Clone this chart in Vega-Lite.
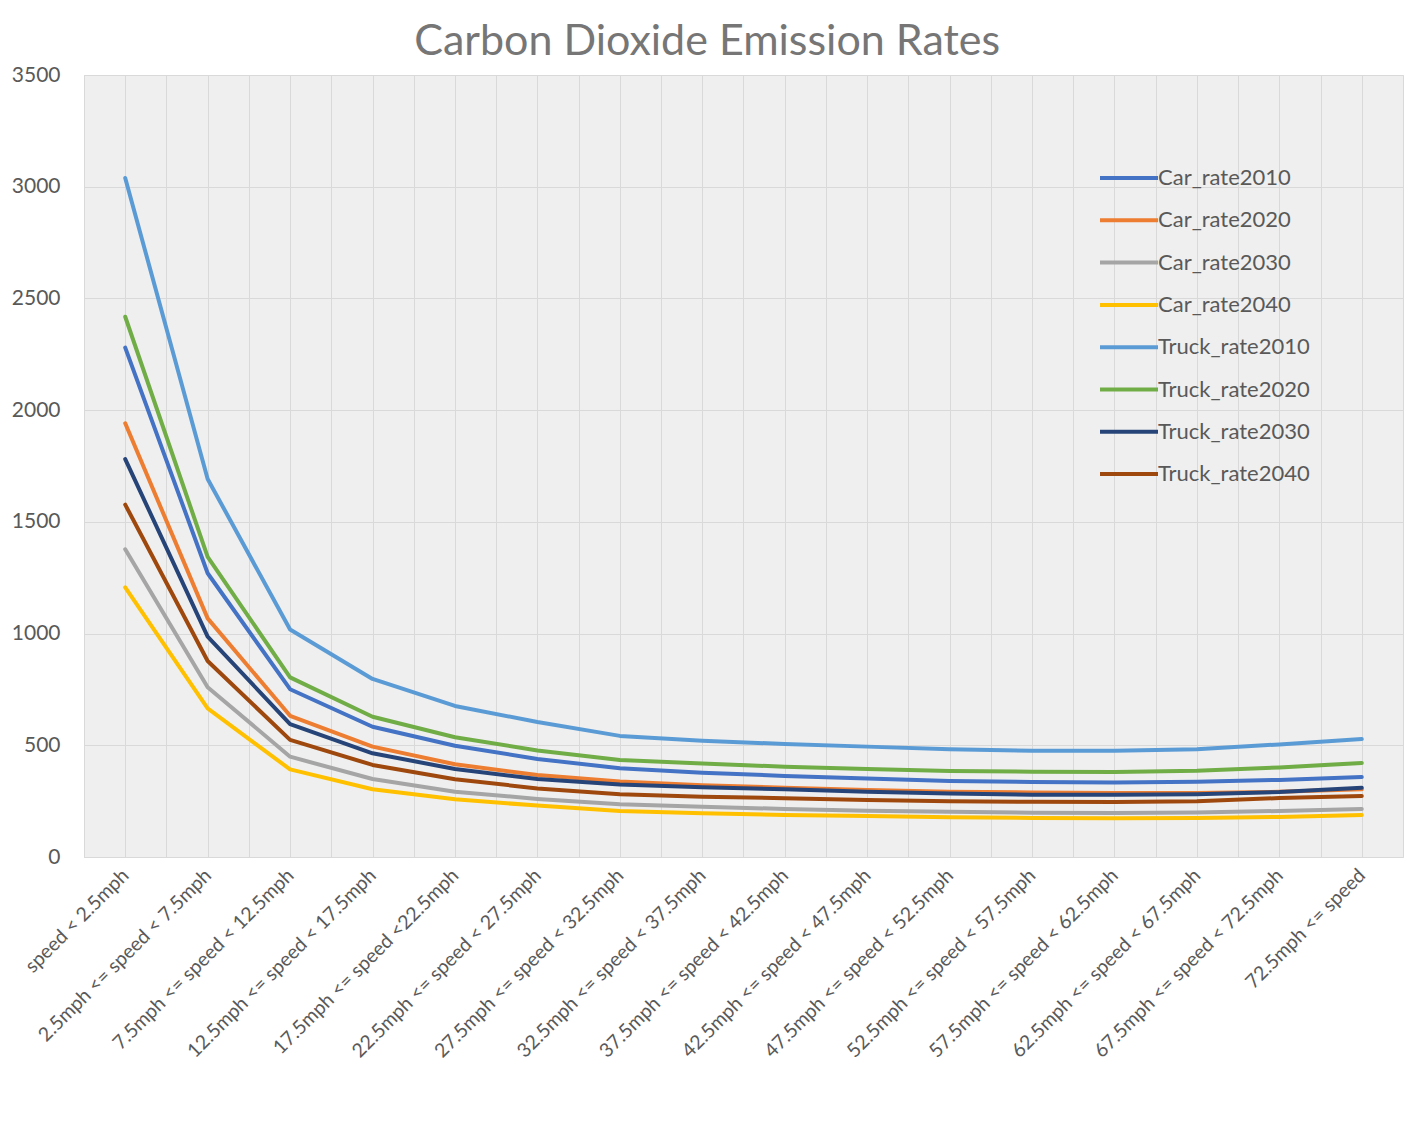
{
  "$schema": "https://vega.github.io/schema/vega-lite/v6.json",
  "width": 1319,
  "height": 782,
  "autosize": "none",
  "padding": {"left": 84, "top": 75, "right": 5, "bottom": 265},
  "background": "white",
  "title": {"text": "Carbon Dioxide Emission Rates", "font": "Lato", "fontSize": 43, "fontWeight": "normal", "color": "#767676", "anchor": "middle", "frame": "bounds", "offset": 0},
  "config": {"view": {"stroke": "#d9d9d9", "fill": "#efefef"}, "font": "Lato"},
  "data": {"values": [
    {"speed": "speed < 2.5mph", "series": "Car_rate2010", "rate": 2280},
    {"speed": "2.5mph <= speed < 7.5mph", "series": "Car_rate2010", "rate": 1270},
    {"speed": "7.5mph <= speed < 12.5mph", "series": "Car_rate2010", "rate": 751},
    {"speed": "12.5mph <= speed < 17.5mph", "series": "Car_rate2010", "rate": 583},
    {"speed": "17.5mph <= speed <22.5mph", "series": "Car_rate2010", "rate": 498},
    {"speed": "22.5mph <= speed < 27.5mph", "series": "Car_rate2010", "rate": 439},
    {"speed": "27.5mph <= speed < 32.5mph", "series": "Car_rate2010", "rate": 397},
    {"speed": "32.5mph <= speed < 37.5mph", "series": "Car_rate2010", "rate": 377},
    {"speed": "37.5mph <= speed < 42.5mph", "series": "Car_rate2010", "rate": 363},
    {"speed": "42.5mph <= speed < 47.5mph", "series": "Car_rate2010", "rate": 351},
    {"speed": "47.5mph <= speed < 52.5mph", "series": "Car_rate2010", "rate": 340},
    {"speed": "52.5mph <= speed < 57.5mph", "series": "Car_rate2010", "rate": 336},
    {"speed": "57.5mph <= speed < 62.5mph", "series": "Car_rate2010", "rate": 333},
    {"speed": "62.5mph <= speed < 67.5mph", "series": "Car_rate2010", "rate": 337},
    {"speed": "67.5mph <= speed < 72.5mph", "series": "Car_rate2010", "rate": 345},
    {"speed": "72.5mph <= speed", "series": "Car_rate2010", "rate": 358},

    {"speed": "speed < 2.5mph", "series": "Car_rate2020", "rate": 1941},
    {"speed": "2.5mph <= speed < 7.5mph", "series": "Car_rate2020", "rate": 1068},
    {"speed": "7.5mph <= speed < 12.5mph", "series": "Car_rate2020", "rate": 632},
    {"speed": "12.5mph <= speed < 17.5mph", "series": "Car_rate2020", "rate": 494},
    {"speed": "17.5mph <= speed <22.5mph", "series": "Car_rate2020", "rate": 415},
    {"speed": "22.5mph <= speed < 27.5mph", "series": "Car_rate2020", "rate": 367},
    {"speed": "27.5mph <= speed < 32.5mph", "series": "Car_rate2020", "rate": 338},
    {"speed": "32.5mph <= speed < 37.5mph", "series": "Car_rate2020", "rate": 321},
    {"speed": "37.5mph <= speed < 42.5mph", "series": "Car_rate2020", "rate": 310},
    {"speed": "42.5mph <= speed < 47.5mph", "series": "Car_rate2020", "rate": 300},
    {"speed": "47.5mph <= speed < 52.5mph", "series": "Car_rate2020", "rate": 292},
    {"speed": "52.5mph <= speed < 57.5mph", "series": "Car_rate2020", "rate": 289},
    {"speed": "57.5mph <= speed < 62.5mph", "series": "Car_rate2020", "rate": 286},
    {"speed": "62.5mph <= speed < 67.5mph", "series": "Car_rate2020", "rate": 286},
    {"speed": "67.5mph <= speed < 72.5mph", "series": "Car_rate2020", "rate": 292},
    {"speed": "72.5mph <= speed", "series": "Car_rate2020", "rate": 303},

    {"speed": "speed < 2.5mph", "series": "Car_rate2030", "rate": 1377},
    {"speed": "2.5mph <= speed < 7.5mph", "series": "Car_rate2030", "rate": 760},
    {"speed": "7.5mph <= speed < 12.5mph", "series": "Car_rate2030", "rate": 449},
    {"speed": "12.5mph <= speed < 17.5mph", "series": "Car_rate2030", "rate": 349},
    {"speed": "17.5mph <= speed <22.5mph", "series": "Car_rate2030", "rate": 292},
    {"speed": "22.5mph <= speed < 27.5mph", "series": "Car_rate2030", "rate": 260},
    {"speed": "27.5mph <= speed < 32.5mph", "series": "Car_rate2030", "rate": 236},
    {"speed": "32.5mph <= speed < 37.5mph", "series": "Car_rate2030", "rate": 225},
    {"speed": "37.5mph <= speed < 42.5mph", "series": "Car_rate2030", "rate": 215},
    {"speed": "42.5mph <= speed < 47.5mph", "series": "Car_rate2030", "rate": 207},
    {"speed": "47.5mph <= speed < 52.5mph", "series": "Car_rate2030", "rate": 202},
    {"speed": "52.5mph <= speed < 57.5mph", "series": "Car_rate2030", "rate": 198},
    {"speed": "57.5mph <= speed < 62.5mph", "series": "Car_rate2030", "rate": 197},
    {"speed": "62.5mph <= speed < 67.5mph", "series": "Car_rate2030", "rate": 199},
    {"speed": "67.5mph <= speed < 72.5mph", "series": "Car_rate2030", "rate": 206},
    {"speed": "72.5mph <= speed", "series": "Car_rate2030", "rate": 215},

    {"speed": "speed < 2.5mph", "series": "Car_rate2040", "rate": 1207},
    {"speed": "2.5mph <= speed < 7.5mph", "series": "Car_rate2040", "rate": 665},
    {"speed": "7.5mph <= speed < 12.5mph", "series": "Car_rate2040", "rate": 392},
    {"speed": "12.5mph <= speed < 17.5mph", "series": "Car_rate2040", "rate": 303},
    {"speed": "17.5mph <= speed <22.5mph", "series": "Car_rate2040", "rate": 258},
    {"speed": "22.5mph <= speed < 27.5mph", "series": "Car_rate2040", "rate": 230},
    {"speed": "27.5mph <= speed < 32.5mph", "series": "Car_rate2040", "rate": 206},
    {"speed": "32.5mph <= speed < 37.5mph", "series": "Car_rate2040", "rate": 196},
    {"speed": "37.5mph <= speed < 42.5mph", "series": "Car_rate2040", "rate": 188},
    {"speed": "42.5mph <= speed < 47.5mph", "series": "Car_rate2040", "rate": 183},
    {"speed": "47.5mph <= speed < 52.5mph", "series": "Car_rate2040", "rate": 178},
    {"speed": "52.5mph <= speed < 57.5mph", "series": "Car_rate2040", "rate": 175},
    {"speed": "57.5mph <= speed < 62.5mph", "series": "Car_rate2040", "rate": 173},
    {"speed": "62.5mph <= speed < 67.5mph", "series": "Car_rate2040", "rate": 175},
    {"speed": "67.5mph <= speed < 72.5mph", "series": "Car_rate2040", "rate": 179},
    {"speed": "72.5mph <= speed", "series": "Car_rate2040", "rate": 188},

    {"speed": "speed < 2.5mph", "series": "Truck_rate2010", "rate": 3039},
    {"speed": "2.5mph <= speed < 7.5mph", "series": "Truck_rate2010", "rate": 1692},
    {"speed": "7.5mph <= speed < 12.5mph", "series": "Truck_rate2010", "rate": 1018},
    {"speed": "12.5mph <= speed < 17.5mph", "series": "Truck_rate2010", "rate": 797},
    {"speed": "17.5mph <= speed <22.5mph", "series": "Truck_rate2010", "rate": 676},
    {"speed": "22.5mph <= speed < 27.5mph", "series": "Truck_rate2010", "rate": 604},
    {"speed": "27.5mph <= speed < 32.5mph", "series": "Truck_rate2010", "rate": 542},
    {"speed": "32.5mph <= speed < 37.5mph", "series": "Truck_rate2010", "rate": 520},
    {"speed": "37.5mph <= speed < 42.5mph", "series": "Truck_rate2010", "rate": 506},
    {"speed": "42.5mph <= speed < 47.5mph", "series": "Truck_rate2010", "rate": 494},
    {"speed": "47.5mph <= speed < 52.5mph", "series": "Truck_rate2010", "rate": 482},
    {"speed": "52.5mph <= speed < 57.5mph", "series": "Truck_rate2010", "rate": 476},
    {"speed": "57.5mph <= speed < 62.5mph", "series": "Truck_rate2010", "rate": 476},
    {"speed": "62.5mph <= speed < 67.5mph", "series": "Truck_rate2010", "rate": 482},
    {"speed": "67.5mph <= speed < 72.5mph", "series": "Truck_rate2010", "rate": 504},
    {"speed": "72.5mph <= speed", "series": "Truck_rate2010", "rate": 528},

    {"speed": "speed < 2.5mph", "series": "Truck_rate2020", "rate": 2418},
    {"speed": "2.5mph <= speed < 7.5mph", "series": "Truck_rate2020", "rate": 1343},
    {"speed": "7.5mph <= speed < 12.5mph", "series": "Truck_rate2020", "rate": 804},
    {"speed": "12.5mph <= speed < 17.5mph", "series": "Truck_rate2020", "rate": 628},
    {"speed": "17.5mph <= speed <22.5mph", "series": "Truck_rate2020", "rate": 536},
    {"speed": "22.5mph <= speed < 27.5mph", "series": "Truck_rate2020", "rate": 477},
    {"speed": "27.5mph <= speed < 32.5mph", "series": "Truck_rate2020", "rate": 434},
    {"speed": "32.5mph <= speed < 37.5mph", "series": "Truck_rate2020", "rate": 419},
    {"speed": "37.5mph <= speed < 42.5mph", "series": "Truck_rate2020", "rate": 404},
    {"speed": "42.5mph <= speed < 47.5mph", "series": "Truck_rate2020", "rate": 394},
    {"speed": "47.5mph <= speed < 52.5mph", "series": "Truck_rate2020", "rate": 385},
    {"speed": "52.5mph <= speed < 57.5mph", "series": "Truck_rate2020", "rate": 382},
    {"speed": "57.5mph <= speed < 62.5mph", "series": "Truck_rate2020", "rate": 380},
    {"speed": "62.5mph <= speed < 67.5mph", "series": "Truck_rate2020", "rate": 386},
    {"speed": "67.5mph <= speed < 72.5mph", "series": "Truck_rate2020", "rate": 401},
    {"speed": "72.5mph <= speed", "series": "Truck_rate2020", "rate": 421},

    {"speed": "speed < 2.5mph", "series": "Truck_rate2030", "rate": 1781},
    {"speed": "2.5mph <= speed < 7.5mph", "series": "Truck_rate2030", "rate": 986},
    {"speed": "7.5mph <= speed < 12.5mph", "series": "Truck_rate2030", "rate": 595},
    {"speed": "12.5mph <= speed < 17.5mph", "series": "Truck_rate2030", "rate": 464},
    {"speed": "17.5mph <= speed <22.5mph", "series": "Truck_rate2030", "rate": 394},
    {"speed": "22.5mph <= speed < 27.5mph", "series": "Truck_rate2030", "rate": 349},
    {"speed": "27.5mph <= speed < 32.5mph", "series": "Truck_rate2030", "rate": 324},
    {"speed": "32.5mph <= speed < 37.5mph", "series": "Truck_rate2030", "rate": 312},
    {"speed": "37.5mph <= speed < 42.5mph", "series": "Truck_rate2030", "rate": 303},
    {"speed": "42.5mph <= speed < 47.5mph", "series": "Truck_rate2030", "rate": 292},
    {"speed": "47.5mph <= speed < 52.5mph", "series": "Truck_rate2030", "rate": 284},
    {"speed": "52.5mph <= speed < 57.5mph", "series": "Truck_rate2030", "rate": 279},
    {"speed": "57.5mph <= speed < 62.5mph", "series": "Truck_rate2030", "rate": 279},
    {"speed": "62.5mph <= speed < 67.5mph", "series": "Truck_rate2030", "rate": 281},
    {"speed": "67.5mph <= speed < 72.5mph", "series": "Truck_rate2030", "rate": 291},
    {"speed": "72.5mph <= speed", "series": "Truck_rate2030", "rate": 310},

    {"speed": "speed < 2.5mph", "series": "Truck_rate2040", "rate": 1577},
    {"speed": "2.5mph <= speed < 7.5mph", "series": "Truck_rate2040", "rate": 877},
    {"speed": "7.5mph <= speed < 12.5mph", "series": "Truck_rate2040", "rate": 524},
    {"speed": "12.5mph <= speed < 17.5mph", "series": "Truck_rate2040", "rate": 412},
    {"speed": "17.5mph <= speed <22.5mph", "series": "Truck_rate2040", "rate": 348},
    {"speed": "22.5mph <= speed < 27.5mph", "series": "Truck_rate2040", "rate": 307},
    {"speed": "27.5mph <= speed < 32.5mph", "series": "Truck_rate2040", "rate": 281},
    {"speed": "32.5mph <= speed < 37.5mph", "series": "Truck_rate2040", "rate": 270},
    {"speed": "37.5mph <= speed < 42.5mph", "series": "Truck_rate2040", "rate": 263},
    {"speed": "42.5mph <= speed < 47.5mph", "series": "Truck_rate2040", "rate": 255},
    {"speed": "47.5mph <= speed < 52.5mph", "series": "Truck_rate2040", "rate": 250},
    {"speed": "52.5mph <= speed < 57.5mph", "series": "Truck_rate2040", "rate": 247},
    {"speed": "57.5mph <= speed < 62.5mph", "series": "Truck_rate2040", "rate": 246},
    {"speed": "62.5mph <= speed < 67.5mph", "series": "Truck_rate2040", "rate": 249},
    {"speed": "67.5mph <= speed < 72.5mph", "series": "Truck_rate2040", "rate": 264},
    {"speed": "72.5mph <= speed", "series": "Truck_rate2040", "rate": 273}
  ]},
  "encoding": {
    "y": {"field": "rate", "type": "quantitative",
      "scale": {"domain": [0, 3500], "nice": false},
      "axis": {"title": null, "format": "d", "values": [0, 500, 1000, 1500, 2000, 2500, 3000, 3500], "domain": false, "ticks": false, "grid": true, "gridColor": "#d9d9d9", "gridWidth": 1, "labelFont": "Lato", "labelFontSize": 21, "labelColor": "#595959", "labelPadding": 24}}
  },
  "layer": [
    {
      "mark": {"type": "line", "opacity": 0},
      "encoding": {
        "x": {"field": "speed", "type": "ordinal", "sort": null, "scale": {"type": "point", "padding": 0.5},
          "axis": {"orient": "top", "title": null, "labels": false, "ticks": false, "domain": false, "grid": true, "gridColor": "#d9d9d9", "gridWidth": 1, "tickOffset": -41.22}},
        "detail": {"field": "series"}
      }
    },
    {
      "mark": {"type": "line", "strokeWidth": 4, "strokeCap": "round", "strokeJoin": "round"},
      "encoding": {
        "x": {"field": "speed", "type": "ordinal", "sort": null, "scale": {"type": "point", "padding": 0.5},
          "axis": {"orient": "bottom", "title": null, "labelAngle": -45, "labelAlign": "right", "labelBaseline": "middle", "labelFont": "Lato", "labelFontSize": 19.5, "labelColor": "#595959", "labelPadding": 15, "labelLimit": 0, "ticks": false, "domain": false, "grid": true, "gridColor": "#d9d9d9", "gridWidth": 1, "labelOverlap": false}},
        "color": {"field": "series", "type": "nominal",
          "scale": {"domain": ["Car_rate2010", "Car_rate2020", "Car_rate2030", "Car_rate2040", "Truck_rate2010", "Truck_rate2020", "Truck_rate2030", "Truck_rate2040"],
                    "range": ["#4472C4", "#ED7D31", "#A5A5A5", "#FFC000", "#5B9BD5", "#70AD47", "#264478", "#9E480E"]},
          "legend": {"orient": "none", "legendX": 1014, "legendY": 72, "title": null, "padding": 0, "symbolType": "stroke", "symbolSize": 3364, "symbolStrokeWidth": 4, "labelFont": "Lato", "labelFontSize": 22, "labelColor": "#595959", "labelOffset": -2, "rowPadding": 0.3}}
      }
    }
  ],
  "resolve": {"axis": {"x": "independent"}}
}
